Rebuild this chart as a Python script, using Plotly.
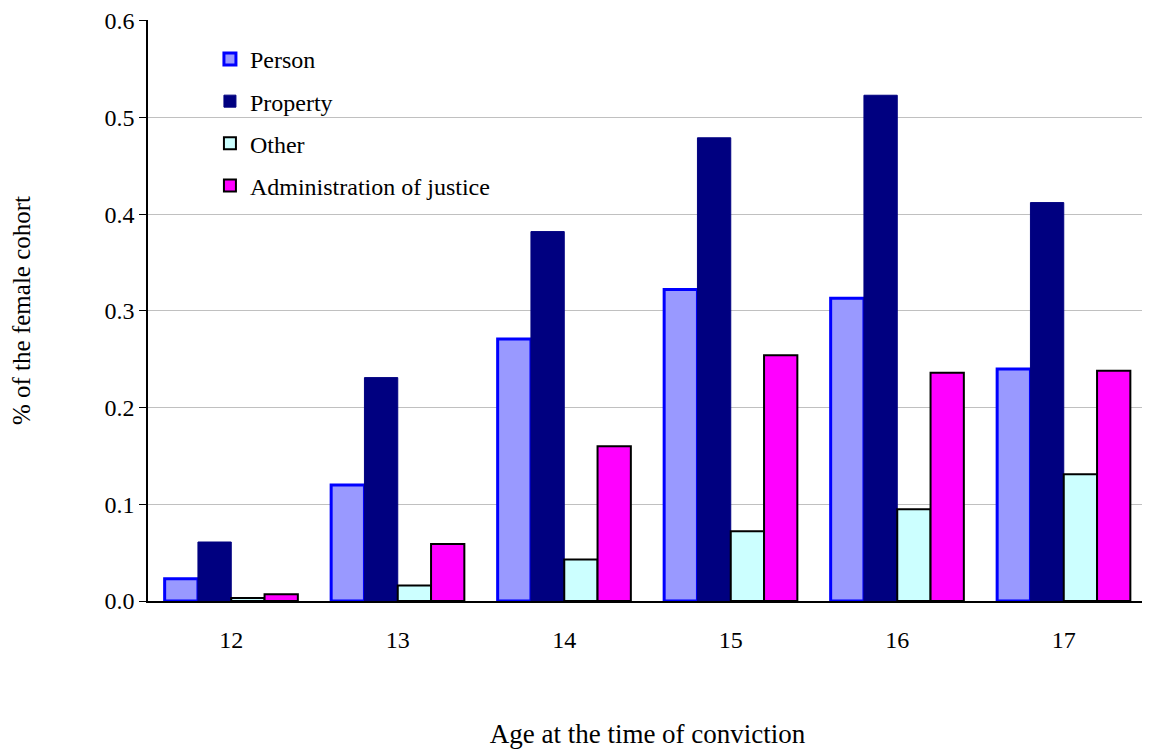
import plotly.graph_objects as go

ages = ["12", "13", "14", "15", "16", "17"]
person = [0.023, 0.120, 0.271, 0.322, 0.313, 0.240]
property_ = [0.061, 0.231, 0.382, 0.479, 0.523, 0.412]
other = [0.003, 0.016, 0.043, 0.072, 0.095, 0.131]
admin = [0.007, 0.059, 0.160, 0.254, 0.236, 0.238]
y_ticks = [0.0, 0.1, 0.2, 0.3, 0.4, 0.5, 0.6]

FONT = "Liberation Serif, Times New Roman, serif"

series = [
    ("Person", person, "#9999FF", "#0000FF", 3),
    ("Property", property_, "#000080", "#000080", 1),
    ("Other", other, "#CCFFFF", "#000000", 2),
    ("Administration of justice", admin, "#FF00FF", "#000000", 2),
]

fig = go.Figure()
for i, (name, vals, fill, line, lw) in enumerate(series):
    fig.add_trace(go.Bar(
        x=ages, y=vals, name=name, legendgroup=f"g{i}",
        marker=dict(color=fill, line=dict(color=line, width=lw)),
    ))

fig.update_layout(
    width=1142, height=741,
    margin=dict(l=140, r=3, t=12, b=148, autoexpand=False),
    paper_bgcolor="white", plot_bgcolor="white",
    barmode="group", bargap=0.2, bargroupgap=0,
    font=dict(family=FONT, size=24, color="black"),
    showlegend=True,
    legend=dict(
        x=0.062, y=0.971, xanchor="left", yanchor="top",
        bgcolor="rgba(0,0,0,0)", borderwidth=0,
        traceorder="grouped", tracegroupgap=8,
        font=dict(family=FONT, size=24, color="black"),
        itemwidth=30,
    ),
    shapes=[dict(
        type="rect", xref="paper", yref="paper", layer="between",
        x0=0.022, x1=0.382, y0=(601 - 205) / 581, y1=(601 - 30) / 581,
        fillcolor="white", line=dict(width=0),
    )],
    xaxis=dict(
        automargin=False,
        showline=True, linecolor="black", linewidth=1.5,
        ticks="", showgrid=False, ticklabelstandoff=16,
        title=dict(text="Age at the time of conviction", standoff=74,
                   font=dict(family=FONT, size=27)),
        tickfont=dict(family=FONT, size=24),
    ),
    yaxis=dict(
        automargin=False,
        range=[0, 0.6008], tickvals=y_ticks, tickformat=".1f",
        showline=True, linecolor="black", linewidth=1.5,
        ticks="outside", ticklen=7, tickcolor="black",
        showgrid=True, gridcolor="#C0C0C0", gridwidth=1,
        zeroline=False,
        title=dict(text="% of the female cohort", standoff=76,
                   font=dict(family=FONT, size=25)),
        tickfont=dict(family=FONT, size=24),
    ),
)

fig.write_html("out.html")
